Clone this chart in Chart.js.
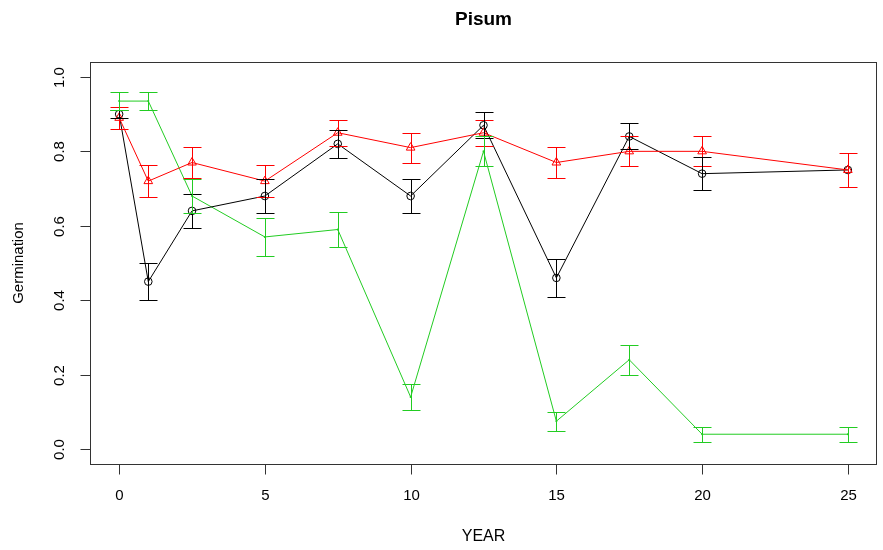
<!DOCTYPE html>
<html>
<head>
<meta charset="utf-8">
<script src="https://cdn.jsdelivr.net/npm/chart.js@4.4.0/dist/chart.umd.min.js"></script>
<style>
  html, body { margin: 0; padding: 0; background: #fff; }
</style>
</head>
<body>
<canvas id="myChart" width="883" height="550"></canvas>
<script>
// valeurs
var years = [0, 1, 2.5, 5, 7.5, 10, 12.5, 15, 17.5, 20, 25];

var blackVals = [0.90, 0.45, 0.64, 0.68, 0.82, 0.68, 0.87, 0.46, 0.84, 0.74, 0.75];
var blackErr  = [0.01, 0.05, 0.045, 0.045, 0.037, 0.045, 0.035, 0.05, 0.035, 0.045, 0.0];

var redVals = [0.89, 0.72, 0.77, 0.72, 0.85, 0.81, 0.85, 0.77, 0.80, 0.80, 0.75];
var redErr  = [0.03, 0.043, 0.042, 0.043, 0.035, 0.04, 0.035, 0.042, 0.04, 0.04, 0.045];

var greenVals = [0.935, 0.935, 0.68, 0.57, 0.59, 0.14, 0.80, 0.075, 0.24, 0.04, 0.04];
var greenErr  = [0.025, 0.025, 0.045, 0.05, 0.047, 0.035, 0.04, 0.025, 0.04, 0.02, 0.02];

var xTicks = [0, 5, 10, 15, 20, 25];
var yTicks = [0, 0.2, 0.4, 0.6, 0.8, 1.0];
var yTickLabels = ['0.0', '0.2', '0.4', '0.6', '0.8', '1.0'];

var GREEN = '#22cc22';

function toPoints(vals) {
    var arr = [];
    for (var i = 0; i < years.length; i++) {
        arr.push({ x: years[i], y: vals[i] });
    }
    return arr;
}

// dessin façon R : barres d'erreur, boite, axes, titres
var rPlot = {
    id: 'rPlot',
    afterDatasetsDraw: function (chart) {
        var ctx = chart.ctx;
        var sx = chart.scales.x, sy = chart.scales.y;
        chart.data.datasets.forEach(function (ds, k) {
            if (!chart.isDatasetVisible(k)) return;
            ctx.save();
            ctx.strokeStyle = ds.borderColor;
            ctx.lineWidth = 1;
            ds.data.forEach(function (p, i) {
                var e = ds.errs[i];
                if (!e) return;
                var px = Math.round(sx.getPixelForValue(p.x)) + 0.5;
                var top = Math.round(sy.getPixelForValue(p.y + e)) + 0.5;
                var bot = Math.round(sy.getPixelForValue(p.y - e)) + 0.5;
                ctx.beginPath();
                ctx.moveTo(px, top); ctx.lineTo(px, bot);
                ctx.moveTo(px - 9, top); ctx.lineTo(px + 9, top);
                ctx.moveTo(px - 9, bot); ctx.lineTo(px + 9, bot);
                ctx.stroke();
            });
            ctx.restore();
        });
    },
    afterDraw: function (chart) {
        var ctx = chart.ctx, a = chart.chartArea;
        var sx = chart.scales.x, sy = chart.scales.y;
        ctx.save();
        ctx.strokeStyle = '#333';
        ctx.lineWidth = 1;
        ctx.strokeRect(Math.round(a.left) + 0.5, Math.round(a.top) + 0.5,
                       Math.round(a.right - a.left) - 1, Math.round(a.bottom - a.top));

        ctx.fillStyle = '#000';
        ctx.font = '15px "Liberation Sans", Arial, sans-serif';
        ctx.textAlign = 'center';
        ctx.textBaseline = 'middle';
        var bottom = Math.round(a.bottom) + 0.5;
        xTicks.forEach(function (t) {
            var px = Math.round(sx.getPixelForValue(t)) + 0.5;
            ctx.beginPath();
            ctx.moveTo(px, bottom); ctx.lineTo(px, bottom + 10);
            ctx.stroke();
            ctx.fillText(String(t), px, 496);
        });
        var left = Math.round(a.left) + 0.5;
        yTicks.forEach(function (t, i) {
            var py = Math.round(sy.getPixelForValue(t)) + 0.5;
            ctx.beginPath();
            ctx.moveTo(left, py); ctx.lineTo(left - 10, py);
            ctx.stroke();
            ctx.save();
            ctx.translate(60, py);
            ctx.rotate(-Math.PI / 2);
            ctx.fillText(yTickLabels[i], 0, 0);
            ctx.restore();
        });

        ctx.font = 'bold 19px "Liberation Sans", Arial, sans-serif';
        ctx.fillText('Pisum', (a.left + a.right) / 2, 20);
        ctx.font = '16px "Liberation Sans", Arial, sans-serif';
        ctx.fillText('YEAR', (a.left + a.right) / 2, 537);
        ctx.save();
        ctx.translate(19, 263);
        ctx.rotate(-Math.PI / 2);
        ctx.font = '15px "Liberation Sans", Arial, sans-serif';
        ctx.fillText('Germination', 0, 0);
        ctx.restore();
        ctx.restore();
    }
};

var ctx = document.getElementById('myChart').getContext('2d');
var myChart = new Chart(ctx, {
    type: 'line',
    data: {
        datasets: [{
            label: 'rouge',
            data: toPoints(redVals),
            errs: redErr,
            borderColor: '#ff0000',
            backgroundColor: 'rgba(0,0,0,0)',
            borderWidth: 1,
            pointStyle: 'triangle',
            pointRadius: 5,
            pointBorderWidth: 1,
            tension: 0
        }, {
            label: 'noir',
            data: toPoints(blackVals),
            errs: blackErr,
            borderColor: '#000000',
            backgroundColor: 'rgba(0,0,0,0)',
            borderWidth: 1,
            pointStyle: 'circle',
            pointRadius: 3.8,
            pointBorderWidth: 1,
            tension: 0
        }, {
            label: 'vert',
            data: toPoints(greenVals),
            errs: greenErr,
            borderColor: GREEN,
            backgroundColor: GREEN,
            borderWidth: 1,
            pointStyle: 'circle',
            pointRadius: 1,
            pointBorderWidth: 0,
            tension: 0
        }]
    },
    options: {
        responsive: false,
        animation: false,
        layout: { padding: { left: 90, right: 1, top: 62, bottom: 86 } },
        plugins: {
            legend: { display: false },
            tooltip: { enabled: false },
            title: { display: false }
        },
        scales: {
            x: { type: 'linear', min: -1, max: 26, display: false },
            y: { type: 'linear', min: -0.04, max: 1.04, display: false }
        }
    },
    plugins: [rPlot]
});
</script>
</body>
</html>
